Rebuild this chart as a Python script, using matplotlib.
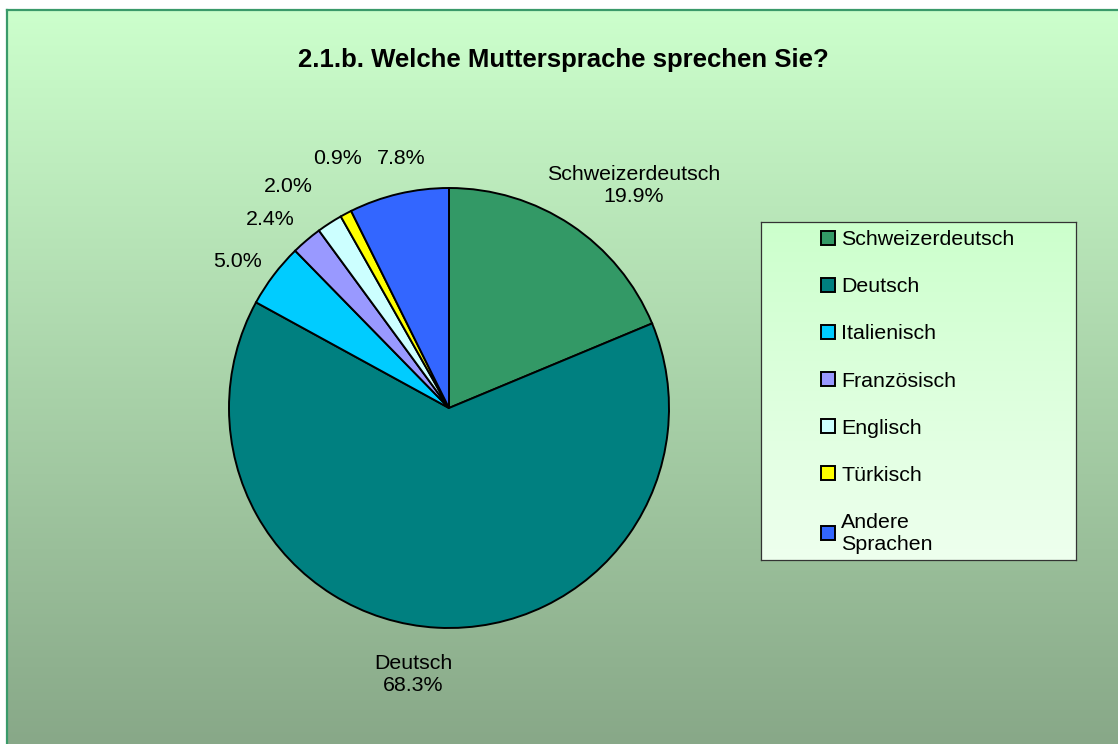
import numpy as np
import matplotlib
matplotlib.use("Agg")
import matplotlib.pyplot as plt
from matplotlib.colors import LinearSegmentedColormap

plt.rcParams['font.family'] = ['Liberation Sans', 'DejaVu Sans']

# data
languages = ["Schweizerdeutsch", "Deutsch", "Italienisch", "Französisch",
             "Englisch", "Türkisch", "Andere\nSprachen"]
percent = [19.9, 68.3, 5.0, 2.4, 2.0, 0.9, 7.8]
colors = ["#339966", "#008080", "#00ccff", "#9999ff", "#ccffff", "#ffff00", "#3366ff"]
title = "2.1.b. Welche Muttersprache sprechen Sie?"

# label texts and where they sit (data units, pie radius = 1)
label_text = ["Schweizerdeutsch\n19.9%", "Deutsch\n68.3%", "5.0%", "2.4%",
              "2.0%", "0.9%", "7.8%"]
label_pos = [(0.84, 1.01), (-0.164, -1.21), (-0.96, 0.664), (-0.814, 0.855),
             (-0.732, 1.005), (-0.505, 1.136), (-0.218, 1.136)]

W, H = 1118, 744
fig = plt.figure(figsize=(W / 100, H / 100), dpi=100)
fig.patch.set_facecolor("white")

# background gradient with green border
bg = fig.add_axes([8 / W, 0, (W - 8) / W, (H - 11) / H])
bg_cmap = LinearSegmentedColormap.from_list("bg", ["#ccffcc", "#88a888"])
grad = np.linspace(0, 1, 256).reshape(-1, 1)
bg.imshow(grad, cmap=bg_cmap, aspect="auto", extent=[0, 1, 0, 1], origin="upper")
bg.set_xticks([])
bg.set_yticks([])
for s in bg.spines.values():
    s.set_visible(False)
fig.add_artist(plt.Line2D([7 / W, 7 / W], [0, 1 - 10 / H], color="#3a9a6a", lw=1.6))
fig.add_artist(plt.Line2D([7 / W, 1], [1 - 10 / H, 1 - 10 / H], color="#3a9a6a", lw=1.6))

# pie
cx, cy, r = 449, 408, 220
half = 1.5 * r
ax = fig.add_axes([(cx - half) / W, (H - cy - half) / H, 2 * half / W, 2 * half / H])
wedges, _ = ax.pie(percent, colors=colors, startangle=90, counterclock=False,
                   radius=1, wedgeprops=dict(edgecolor="black", linewidth=1.4))
ax.set_xlim(-1.5, 1.5)
ax.set_ylim(-1.5, 1.5)
ax.axis("off")
for txt, (x, y) in zip(label_text, label_pos):
    ax.text(x, y, txt, ha="center", va="center", fontsize=15.4,
            multialignment="center", clip_on=False)

fig.text(563 / W, 1 - 60 / H, title, ha="center", va="center",
         fontsize=18.5, fontweight="bold")

# legend box with gradient
lx0, ly0, lx1, ly1 = 761, 222, 1076, 560
lax = fig.add_axes([lx0 / W, (H - ly1) / H, (lx1 - lx0) / W, (ly1 - ly0) / H])
leg_cmap = LinearSegmentedColormap.from_list("lg", ["#ccffcc", "#eeffee"])
lax.imshow(grad, cmap=leg_cmap, aspect="auto", extent=[0, 1, 0, 1], origin="upper")
lax.set_xticks([])
lax.set_yticks([])
for s in lax.spines.values():
    s.set_color("#333333")
    s.set_linewidth(0.9)
leg = lax.legend(wedges, languages, loc="upper left",
                 bbox_to_anchor=((821 - lx0) / (lx1 - lx0), 0.975),
                 frameon=False, fontsize=15.4, handlelength=0.65, handleheight=0.65,
                 handletextpad=0.3, labelspacing=1.31, borderpad=0, borderaxespad=0)

fig.savefig("out.png", dpi=100)
